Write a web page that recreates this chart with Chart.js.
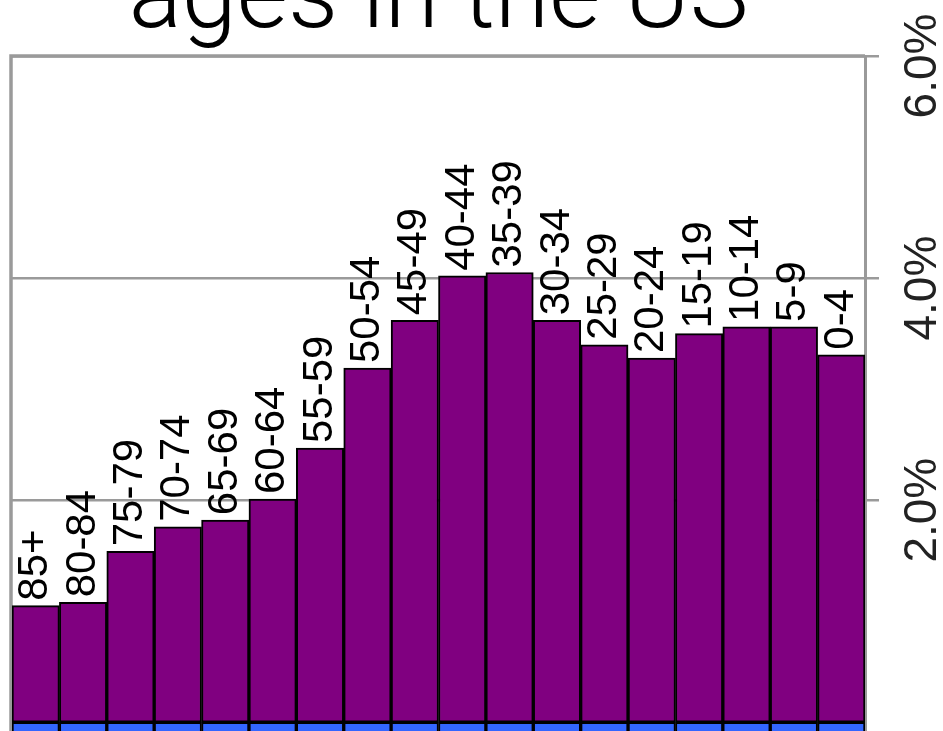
<!DOCTYPE html>
<html>
<head>
<meta charset="utf-8">
<title>ages in the US</title>
<script src="https://cdn.jsdelivr.net/npm/chart.js@4"></script>
<style>
  html, body { margin: 0; padding: 0; background: #fff; }
  #frame { position: relative; width: 943px; height: 731px; overflow: hidden; }
  /* canvas is taller than the page; title top and bottom row get cut off */
  #box { position: absolute; left: 0; top: -60px; width: 943px; height: 860px; }
</style>
</head>
<body>
<div id="frame"><div id="box"><canvas id="ages"></canvas></div></div>
<script>
// share of total population per age group, in percent
const ageGroups = ['85+', '80-84', '75-79', '70-74', '65-69', '60-64', '55-59', '50-54', '45-49',
                   '40-44', '35-39', '30-34', '25-29', '20-24', '15-19', '10-14', '5-9', '0-4'];
const femaleShare = [1.05, 1.08, 1.54, 1.76, 1.82, 2.01, 2.47, 3.19, 3.62,
                     4.02, 4.05, 3.62, 3.40, 3.28, 3.50, 3.56, 3.56, 3.31];
// other half of the pyramid, mostly off the bottom edge
const maleShare = [-0.55, -0.75, -1.25, -1.55, -1.70, -1.95, -2.40, -3.10, -3.55,
                   -4.00, -4.05, -3.65, -3.50, -3.40, -3.65, -3.70, -3.70, -3.45];
const pctTicks = [0, 2, 4, 6];

function pctLabel(v) {
    return v === 0 ? '0%' : v.toFixed(1) + '%'
}

// gray frame on the top and left of the plot
const plotFrame = {
    id: 'plotFrame',
    beforeDatasetsDraw(chart) {
        const ctx = chart.ctx
        const a = chart.chartArea
        ctx.save()
        ctx.strokeStyle = '#9a9a9a'
        ctx.lineWidth = 3.5
        ctx.beginPath()
        ctx.moveTo(a.left - 1, a.bottom)
        ctx.lineTo(a.left - 1, a.top)
        ctx.lineTo(a.right, a.top)
        ctx.stroke()
        ctx.restore()
    }
}

// age group names standing on top of each bar
const barLabels = {
    id: 'barLabels',
    afterDatasetsDraw(chart) {
        const ctx = chart.ctx
        const meta = chart.getDatasetMeta(0)
        ctx.save()
        ctx.font = '42px "Liberation Sans", Arial, sans-serif'
        ctx.fillStyle = '#000'
        ctx.textAlign = 'left'
        ctx.textBaseline = 'middle'
        meta.data.forEach((bar, i) => {
            ctx.save()
            ctx.translate(bar.x, bar.y - 5)
            ctx.rotate(-Math.PI / 2)
            ctx.fillText(ageGroups[i], 0, 0)
            ctx.restore()
        })
        ctx.restore()
    }
}

new Chart(document.getElementById('ages'), {
    type: 'bar',
    data: {
        labels: ageGroups,
        datasets: [
            {
                label: 'female',
                data: femaleShare,
                backgroundColor: '#800080',
                borderColor: '#000',
                borderWidth: 2,
                borderSkipped: false,
                barPercentage: 1,
                categoryPercentage: 1
            },
            {
                label: 'male',
                data: maleShare,
                backgroundColor: '#3366ff',
                borderColor: '#000',
                borderWidth: 2,
                borderSkipped: false,
                barPercentage: 1,
                categoryPercentage: 1
            }
        ]
    },
    options: {
        responsive: true,
        maintainAspectRatio: false,
        animation: false,
        layout: { padding: { left: 12, right: 0, top: 0, bottom: 0 } },
        plugins: {
            legend: { display: false },
            tooltip: { enabled: false },
            title: {
                display: true,
                fullSize: false,
                text: 'ages in the US',
                color: '#000',
                font: { family: 'Roboto', weight: 300, size: 99, lineHeight: 1 },
                padding: { top: 13, bottom: 4 }
            }
        },
        scales: {
            x: { display: false, stacked: true },
            y: {
                position: 'right',
                stacked: true,
                min: -0.7,
                max: 6,
                ticks: {
                    stepSize: 2,
                    minRotation: 90,
                    maxRotation: 90,
                    crossAlign: 'center',
                    padding: -8,
                    labelOffset: 10,
                    color: '#222',
                    font: { family: 'Liberation Sans', size: 46 },
                    callback: v => pctLabel(v)
                },
                grid: { color: '#9a9a9a', lineWidth: 2.5, tickLength: 14 },
                border: { display: true, color: '#9a9a9a', width: 3 },
                afterBuildTicks: s => { s.ticks = s.ticks.filter(t => pctTicks.includes(t.value)) },
                afterFit: s => { s.width = 78; s.paddingTop = 0; s.paddingBottom = 0 }
            }
        }
    },
    plugins: [plotFrame, barLabels]
})
</script>
</body>
</html>
